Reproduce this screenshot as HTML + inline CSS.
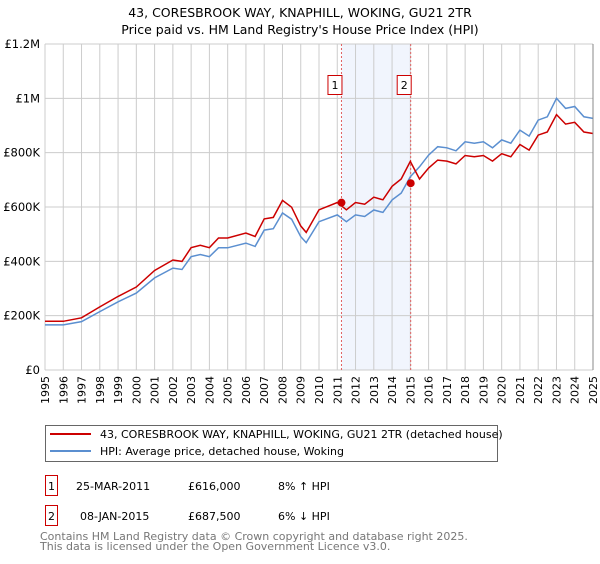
<!DOCTYPE html>
<html><head><meta charset="utf-8"><style>
body{margin:0;background:#fff;font-family:"DejaVu Sans","Liberation Sans",sans-serif;}
svg text{font-family:"DejaVu Sans","Liberation Sans",sans-serif;}
</style></head><body>
<svg id="chart" width="600" height="560" xmlns="http://www.w3.org/2000/svg">
<text x="300" y="17" text-anchor="middle" font-size="12.5">43, CORESBROOK WAY, KNAPHILL, WOKING, GU21 2TR</text>
<text x="300" y="34" text-anchor="middle" font-size="12.5">Price paid vs. HM Land Registry's House Price Index (HPI)</text>
<g id="grid"></g>
<g id="marks"></g>
<g id="axes"></g>
<g>
<rect x="45.5" y="425.5" width="452" height="36" fill="#fff" stroke="#666"/>
<line x1="50" y1="434" x2="91" y2="434" stroke="#cc0000" stroke-width="2"/>
<text x="100" y="438" font-size="11">43, CORESBROOK WAY, KNAPHILL, WOKING, GU21 2TR (detached house)</text>
<line x1="50" y1="451" x2="91" y2="451" stroke="#5b8fd0" stroke-width="2"/>
<text x="100" y="455" font-size="11">HPI: Average price, detached house, Woking</text>
</g>
<g font-size="11">
<rect x="45.5" y="475.5" width="12" height="20" fill="#fff" stroke="#cc0000"/>
<text x="51.5" y="490" text-anchor="middle">1</text>
<text x="76" y="490">25-MAR-2011</text>
<text x="188" y="490">£616,000</text>
<text x="278" y="490">8% ↑ HPI</text>
<rect x="45.5" y="505.5" width="12" height="20" fill="#fff" stroke="#cc0000"/>
<text x="51.5" y="520" text-anchor="middle">2</text>
<text x="80" y="520">08-JAN-2015</text>
<text x="188" y="520">£687,500</text>
<text x="278" y="520">6% ↓ HPI</text>
</g>
<text x="40" y="540" font-size="11" fill="#777">Contains HM Land Registry data © Crown copyright and database right 2025.</text>
<text x="40" y="550" font-size="11" fill="#777">This data is licensed under the Open Government Licence v3.0.</text>
</svg>
<script>
const hpiYears=[1995,1996,1997,1998,1999,2000,2001,2002,2002.5,2003,2003.5,2004,2004.5,2005,2006,2006.5,2007,2007.5,2008,2008.5,2009,2009.3,2010,2011,2011.5,2012,2012.5,2013,2013.5,2014,2014.5,2015,2015.5,2016,2016.5,2017,2017.5,2018,2018.5,2019,2019.5,2020,2020.5,2021,2021.5,2022,2022.5,2023,2023.5,2024,2024.5,2025];
const hpiValues=[166,166,178,215,251,283,339,375,370,417,425,417,450,450,467,455,515,520,578,555,491,469,546,571,546,571,565,589,580,626,651,711,748,791,822,818,807,840,835,840,818,847,835,883,861,920,932,1000,963,970,932,926];
const saleDates=[2011.23,2015.02];
const salePrices=[616,687.5];
const saleLabels=["1","2"];
const ratioBefore=1.08, ratioAfter=0.94;
const yTicks=[0,200,400,600,800,1000,1200];
const yTickLabels=["£0","£200K","£400K","£600K","£800K","£1M","£1.2M"];
const xTicks=[];for(let y=1995;y<=2025;y++)xTicks.push(y);

const X0=45,X1=593,Y0=370,Y1=44;
const xs=v=>X0+(v-1995)/30*(X1-X0);
const ys=v=>Y0-v/1200*(Y0-Y1);
const NS="http://www.w3.org/2000/svg";
function mk(tag,attrs,parent){const e=document.createElementNS(NS,tag);for(const k in attrs)e.setAttribute(k,attrs[k]);parent.appendChild(e);return e;}
const grid=document.getElementById('grid'),marks=document.getElementById('marks'),axes=document.getElementById('axes');

let sh=mk('rect',{x:xs(saleDates[0]),y:Y1,width:xs(saleDates[1])-xs(saleDates[0]),height:Y0-Y1,fill:'#eef3fc',opacity:0.8},grid);


xTicks.forEach(t=>{
  const l=mk('line',{x1:xs(t),x2:xs(t),y1:Y1,y2:Y0,stroke:'#ccc','stroke-width':1},grid);
  
  
  const px=xs(t)+4, py=Y0+6;
  const tx=mk('text',{x:px,y:py,'font-size':11,'text-anchor':'end',transform:'rotate(-90 '+px+' '+py+')'},axes);
  tx.textContent=t;
  
  
});
yTicks.forEach((t,i)=>{
  const l=mk('line',{x1:X0,x2:X1,y1:ys(t),y2:ys(t),stroke:'#ccc','stroke-width':1},grid);
  
  
  const tx=mk('text',{x:40,y:ys(t)+4,'font-size':11.5,'text-anchor':'end'},axes);
  tx.textContent=yTickLabels[i];
  
  
});
saleDates.forEach((d,i)=>{
  const l=mk('line',{x1:xs(d),x2:xs(d),y1:Y1,y2:Y0,stroke:'#e06060','stroke-dasharray':'2,2','stroke-width':1},grid);
  
  
});
function pts(vals){return hpiYears.map((y,i)=>xs(y).toFixed(1)+','+ys(vals[i]).toFixed(1)).join(' ');}
const redVals=hpiValues.map((v,i)=>v*(hpiYears[i]<saleDates[1]?ratioBefore:ratioAfter));
const hl=mk('polyline',{points:pts(hpiValues),fill:'none',stroke:'#5b8fd0','stroke-width':1.5},marks);


const rl=mk('polyline',{points:pts(redVals),fill:'none',stroke:'#cc0000','stroke-width':1.5},marks);


saleDates.forEach((d,i)=>{
  const c=mk('circle',{cx:xs(d),cy:ys(salePrices[i]),r:4,fill:'#cc0000'},marks);
  
  
  const b=mk('rect',{x:xs(d)-13.5,y:75.5,width:14,height:19,fill:'#fff',stroke:'#cc0000'},marks);
  
  
  const t=mk('text',{x:xs(d)-6.5,y:89,'font-size':11,'text-anchor':'middle'},marks);
  t.textContent=saleLabels[i];
  
  
});
const ax=mk('line',{x1:X1,x2:X1,y1:Y1,y2:Y0,stroke:'#888','stroke-width':1},axes);


</script>
</body></html>
